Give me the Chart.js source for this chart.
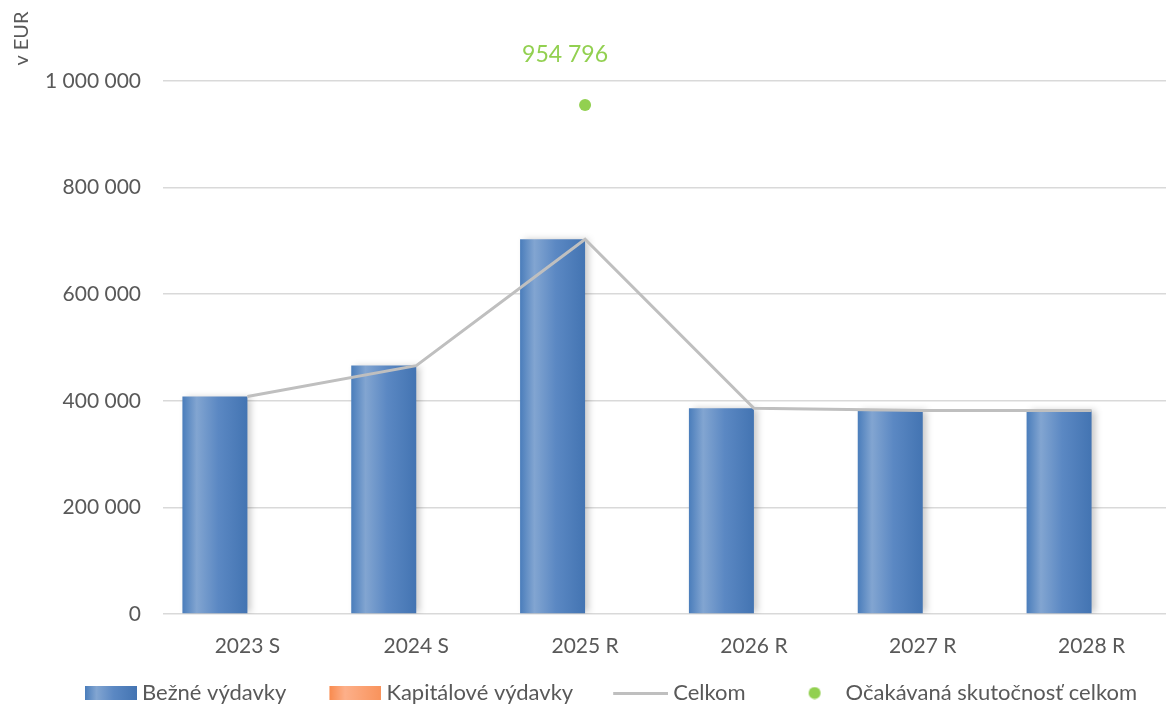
<!DOCTYPE html>
<html>
<head>
<meta charset="utf-8">
<script src="https://cdn.jsdelivr.net/npm/chart.js@4.4.1/dist/chart.umd.min.js"></script>
<style>
  html, body { margin: 0; padding: 0; background: #fff; overflow: hidden; }
  #wrap { width: 1182px; height: 707px; }
</style>
</head>
<body>
<div id="wrap"><canvas id="myChart"></canvas></div>
<script>
var years = ["2023 S", "2024 S", "2025 R", "2026 R", "2027 R", "2028 R"];
var bezne = [408000, 466000, 703000, 386000, 382000, 382000];
var kapitalove = [0, 0, 0, 0, 0, 0];
var celkom = [408000, 466000, 703000, 386000, 382000, 382000];
var ocakavana = [null, null, 954796, null, null, null];
var yTicks = [0, 200000, 400000, 600000, 800000, 1000000];

var txtColor = '#595959';
var fontFam = 'Lato, "Open Sans", sans-serif';

function fmt(v) {
    return String(v).replace(/\B(?=(\d{3})+(?!\d))/g, ' ');
}

function barGradient(ctx, x0, x1, stops) {
    var g = ctx.createLinearGradient(x0, 0, x1, 0);
    for (var i = 0; i < stops.length; i++) g.addColorStop(stops[i][0], stops[i][1]);
    return g;
}
var blueStops = [[0, '#4a7dbb'], [0.22, '#82a5d1'], [0.55, '#5b88c3'], [1, '#4374b2']];
var orangeStops = [[0, '#f98b4f'], [0.3, '#fdb08a'], [1, '#f9935c']];

// legend swatches: image is wider than the box, mark sits at its right end
var LW = 79, LI = 91;
function swatch(h, draw) {
    var c = document.createElement('canvas');
    c.width = LI; c.height = h;
    draw(c.getContext('2d'));
    return c;
}
var blueBox = swatch(14, function (c) { c.fillStyle = barGradient(c, LI - 52, LI, blueStops); c.fillRect(LI - 52, 0, 52, 14); });
var orangeBox = swatch(14, function (c) { c.fillStyle = barGradient(c, LI - 52, LI, orangeStops); c.fillRect(LI - 52, 0, 52, 14); });
var lineBox = swatch(3, function (c) { c.fillStyle = '#bfbfbf'; c.fillRect(LI - 55, 0, 55, 3); });
var dotBox = swatch(13, function (c) { c.fillStyle = '#92d050'; c.beginPath(); c.arc(LI - 26, 6.5, 6, 0, Math.PI * 2); c.fill(); });

var extras = {
    id: 'extras',
    beforeDatasetDraw: function (chart, args) {
        if (chart.data.datasets[args.index].type === 'bar') {
            var c = chart.ctx;
            c.save();
            c.shadowColor = 'rgba(0,0,0,0.22)';
            c.shadowBlur = 7;
            c.shadowOffsetX = 4;
            c.shadowOffsetY = 0;
        }
    },
    afterDatasetDraw: function (chart, args) {
        if (chart.data.datasets[args.index].type === 'bar') chart.ctx.restore();
    },
    afterDraw: function (chart) {
        var c = chart.ctx;
        c.save();
        // y title at top
        c.translate(22, 38.5);
        c.rotate(-Math.PI / 2);
        c.fillStyle = txtColor;
        c.font = '20px ' + fontFam;
        c.textAlign = 'center';
        c.textBaseline = 'middle';
        c.fillText('v EUR', 0, 0);
        c.restore();
        // data label for expected value
        var meta = chart.getDatasetMeta(3);
        meta.data.forEach(function (p, i) {
            if (ocakavana[i] == null) return;
            c.save();
            c.fillStyle = '#92d050';
            c.font = '23px ' + fontFam;
            c.textAlign = 'center';
            c.textBaseline = 'middle';
            c.fillText(fmt(ocakavana[i]), p.x - 20, p.y - 51);
            c.restore();
        });
    }
};

var ctx = document.getElementById('myChart');
var myChart = new Chart(ctx, {
    type: 'bar',
    data: {
        labels: years,
        datasets: [{
            type: 'bar',
            label: 'Bežné výdavky',
            data: bezne,
            order: 2,
            backgroundColor: function (context) {
                var chart = context.chart;
                var xs = chart.scales.x;
                if (!xs || context.dataIndex === undefined) return '#4f81bd';
                var cx = xs.getPixelForValue(context.dataIndex);
                var w = (xs.width / years.length) * 0.77 / 2;
                return barGradient(chart.ctx, cx - w, cx, blueStops);
            },
            borderWidth: 0,
            categoryPercentage: 0.77,
            barPercentage: 1
        }, {
            type: 'bar',
            label: 'Kapitálové výdavky',
            data: kapitalove,
            order: 2,
            backgroundColor: '#f79646',
            borderWidth: 0,
            categoryPercentage: 0.77,
            barPercentage: 1
        }, {
            type: 'line',
            label: 'Celkom',
            data: celkom,
            order: 1,
            borderColor: '#bfbfbf',
            borderWidth: 3,
            pointRadius: 0,
            tension: 0,
            fill: false
        }, {
            type: 'line',
            label: 'Očakávaná skutočnosť celkom',
            data: ocakavana,
            order: 0,
            showLine: false,
            pointRadius: 6,
            pointBackgroundColor: '#92d050',
            pointBorderWidth: 0,
            backgroundColor: '#92d050',
            borderColor: '#92d050'
        }]
    },
    options: {
        responsive: true,
        maintainAspectRatio: false,
        animation: false,
        layout: { padding: { top: 81, left: 7, right: 0, bottom: -7 } },
        plugins: {
            tooltip: { enabled: false },
            legend: {
                position: 'bottom',
                labels: {
                    usePointStyle: true,
                    pointStyleWidth: LW,
                    boxHeight: 14,
                    padding: 10,
                    color: txtColor,
                    font: { family: fontFam, size: 22 },
                    generateLabels: function (chart) {
                        var imgs = [blueBox, orangeBox, lineBox, dotBox];
                        return chart.data.datasets.map(function (ds, i) {
                            return {
                                text: ds.label,
                                pointStyle: imgs[i],
                                fillStyle: 'transparent',
                                strokeStyle: 'transparent',
                                lineWidth: 0,
                                hidden: false,
                                datasetIndex: i,
                                fontColor: txtColor
                            };
                        });
                    }
                }
            }
        },
        scales: {
            x: {
                grid: { display: false },
                border: { display: false },
                afterFit: function (scale) { scale.height = 58; },
                ticks: { color: txtColor, font: { family: fontFam, size: 21 }, padding: 12 }
            },
            y: {
                min: 0,
                max: 1000000,
                afterFit: function (scale) { scale.width = 156; },
                afterBuildTicks: function (scale) {
                    scale.ticks = yTicks.map(function (v) { return { value: v }; });
                },
                grid: { color: '#d9d9d9', lineWidth: 1.5, drawTicks: false },
                border: { display: false },
                ticks: {
                    color: txtColor,
                    font: { family: fontFam, size: 21 },
                    padding: 22,
                    callback: function (v) { return fmt(v); }
                }
            }
        }
    },
    plugins: [extras]
});
</script>
</body>
</html>
